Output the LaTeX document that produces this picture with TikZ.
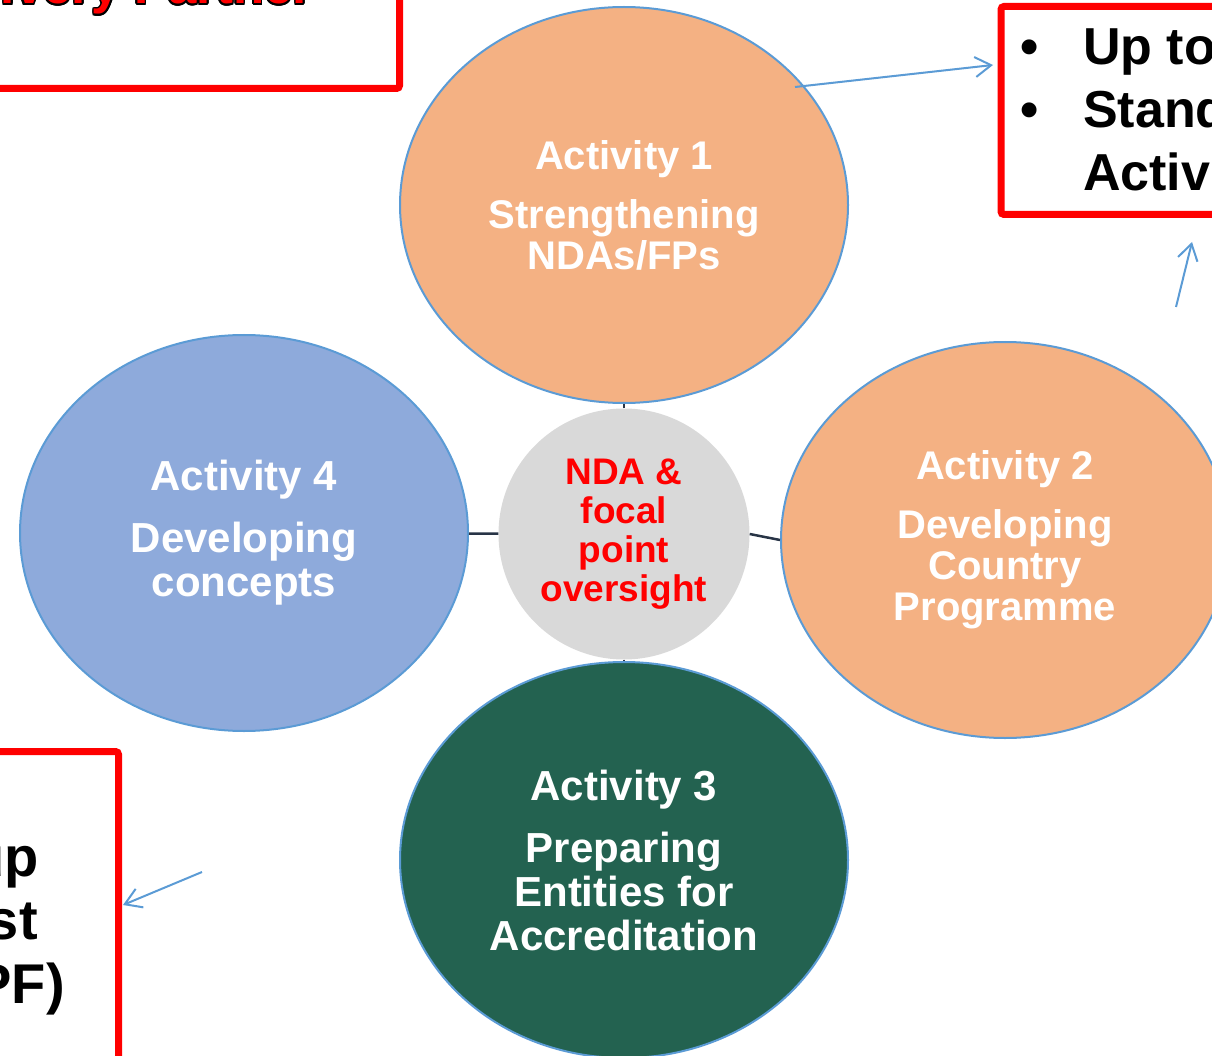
\documentclass[tikz,border=0pt]{standalone}
\usepackage{fontspec}
\setmainfont{Liberation Sans}
\usepackage{contour}
\contourlength{1.6pt}
\usetikzlibrary{arrows.meta,positioning,shapes.geometric}
\definecolor{actOrange}{RGB}{244,177,131}
\definecolor{actBlue}{RGB}{142,170,219}
\definecolor{actGreen}{RGB}{35,98,80}
\definecolor{actEdge}{RGB}{91,155,213}
\definecolor{hubGrey}{RGB}{217,217,217}
\definecolor{hubLink}{RGB}{40,52,70}
\definecolor{boxRed}{RGB}{255,0,0}

\begin{document}
\begin{tikzpicture}[x=1pt, y=-1pt,
  act/.style={ellipse, draw=actEdge, line width=2pt, minimum width=448pt,
              minimum height=396pt, inner sep=0pt, align=center, text=white},
  big/.style={font=\bfseries\fontsize{42}{44}\selectfont},
  small/.style={font=\bfseries\fontsize{40}{41}\selectfont},
  hub/.style={circle, fill=hubGrey, minimum size=251pt, inner sep=0pt, align=center,
              text=boxRed, font=\bfseries\fontsize{37}{39}\selectfont},
  link/.style={line width=2.5pt, hubLink},
  redbox/.style={draw=boxRed, line width=7pt, rounded corners=3pt},
  note/.style={inner sep=0pt, font=\bfseries\fontsize{52}{63}\selectfont},
  arr/.style={-{Straight Barb[length=16pt,width=20pt]}, line width=2pt, actEdge}
]
  \useasboundingbox (0,0) rectangle (1212,1056);
  \clip (0,0) rectangle (1212,1056);

  \node[hub] (hub) at (624,534) {NDA \&\\focal\\point\\oversight};
  \node[act, small, fill=actOrange] (act1) at (624,205)  {Activity 1\\[18pt]Strengthening\\NDAs/FPs};
  \node[act, small, fill=actOrange] (act2) at (1005,540) {Activity 2\\[18pt]Developing\\Country\\Programme};
  \node[act, big, fill=actGreen]    (act3) at (624,860)  {Activity 3\\[18pt]Preparing\\Entities for\\Accreditation};
  \node[act, big, fill=actBlue]     (act4) at (244,533)  {Activity 4\\[18pt]Developing\\concepts};

  \draw[link] (hub) -- (act1);
  \draw[link] (hub.east) -- (act2.west);
  \draw[link] (hub) -- (act3);
  \draw[link] (hub) -- (act4);

  \draw[redbox] (-50,-50) rectangle (399.5,88.5);
  \node[anchor=base east, inner sep=0pt, text=boxRed,
        font=\bfseries\fontsize{51}{51}\selectfont] (dp) at (313,4) {\contour{black}{Delivery Partner}};

  \draw[redbox] (1001,6.5) rectangle (1260,214.5);
  \node[note, anchor=base west, align=left] (grant) at (1083,191)
    {\llap{\makebox[63pt][l]{\textbullet}}Up to USD 1 million\\
     \llap{\makebox[63pt][l]{\textbullet}}Standard Readiness\\
     Activities};

  \draw[redbox] (-50,751.5) rectangle (118.5,1110);
  \node[note, font=\bfseries\fontsize{56}{63.5}\selectfont, anchor=base east, align=right] (ppf) at (65,1003)
    {Set-up\hbox to 26pt{}\\Request\hbox to 27pt{}\\(PPF)};

  \coordinate (t1) at (795,87);   \coordinate (h1) at (993,65);
  \coordinate (t2) at (1176,307); \coordinate (h2) at (1192,242);
  \coordinate (t3) at (202,872);  \coordinate (h3) at (123,905);
  \draw[arr] (t1) -- (h1);
  \draw[arr] (t2) -- (h2);
  \draw[arr] (t3) -- (h3);
\end{tikzpicture}
\end{document}
